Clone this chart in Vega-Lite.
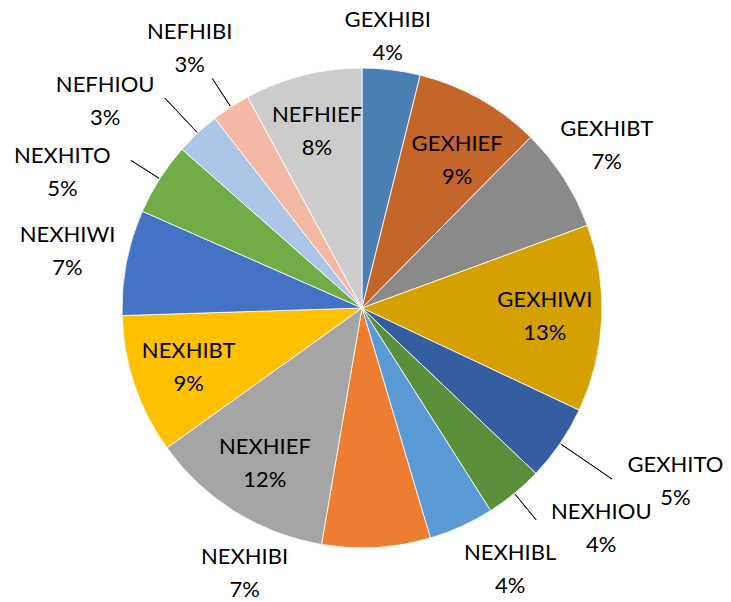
{
  "$schema": "https://vega.github.io/schema/vega-lite/v6.json",
  "width": 724,
  "height": 588,
  "autosize": "none",
  "padding": {"left": 0, "top": 14, "right": 7, "bottom": 0},
  "background": "white",
  "config": {"view": {"stroke": null}, "text": {"font": "Lato", "fontSize": 22, "color": "#000000"}},
  "data": {"values": [
    {"idx": 1, "name": "GEXHIBI", "value": 0.039},
    {"idx": 2, "name": "GEXHIEF", "value": 0.085},
    {"idx": 3, "name": "GEXHIBT", "value": 0.070},
    {"idx": 4, "name": "GEXHIWI", "value": 0.126},
    {"idx": 5, "name": "GEXHITO", "value": 0.051},
    {"idx": 6, "name": "NEXHIOU", "value": 0.039},
    {"idx": 7, "name": "NEXHIBL", "value": 0.044},
    {"idx": 8, "name": "NEXHIBI", "value": 0.073},
    {"idx": 9, "name": "NEXHIEF", "value": 0.124},
    {"idx": 10, "name": "NEXHIBT", "value": 0.094},
    {"idx": 11, "name": "NEXHIWI", "value": 0.071},
    {"idx": 12, "name": "NEXHITO", "value": 0.049},
    {"idx": 13, "name": "NEFHIOU", "value": 0.030},
    {"idx": 14, "name": "NEFHIBI", "value": 0.026},
    {"idx": 15, "name": "NEFHIEF", "value": 0.079}
  ]},
  "encoding": {
    "theta": {"field": "value", "type": "quantitative", "stack": true},
    "order": {"field": "idx", "type": "quantitative"}
  },
  "layer": [
    {
      "mark": {"type": "arc", "outerRadius": 240, "stroke": "#ffffff", "strokeWidth": 0.8},
      "encoding": {
        "color": {
          "field": "name", "type": "nominal", "legend": null,
          "scale": {
            "domain": ["GEXHIBI","GEXHIEF","GEXHIBT","GEXHIWI","GEXHITO","NEXHIOU","NEXHIBL","NEXHIBI","NEXHIEF","NEXHIBT","NEXHIWI","NEXHITO","NEFHIOU","NEFHIBI","NEFHIEF"],
            "range": ["#4a7fb4","#c4662a","#8a8a8a","#d5a100","#355ea0","#5a8f3c","#5b9bd5","#ed7d31","#a5a5a5","#ffc000","#4472c4","#70ad47","#adc5e7","#f4b9a4","#cccccc"]
          }
        }
      }
    },
    {
      "mark": {"type": "arc", "innerRadius": 241, "padAngle": 1.5,
        "outerRadius": {"expr": "datum.name == 'GEXHITO' ? 303 : datum.name == 'NEFHIOU' ? 288 : 274"},
        "fillOpacity": 0, "stroke": "#1a1a1a", "strokeWidth": 1},
      "encoding": {
        "strokeOpacity": {"condition": {"test": "indexof(['GEXHITO','NEXHIOU','NEXHITO','NEFHIOU','NEFHIBI'], datum.name) >= 0", "value": 1}, "value": 0}
      }
    },
    {
      "mark": {"type": "text", "dy": -16,
        "radius": {"expr": "datum.name == 'GEXHIEF' ? 176 : 183"},
        "thetaOffset": {"expr": "(datum.name == 'GEXHIEF' ? 3.4 : 0) * PI / 180"}},
      "encoding": {"text": {"condition": {"test": "datum.value >= 0.075", "field": "name"}, "value": ""}}
    },
    {
      "mark": {"type": "text", "dy": 17,
        "radius": {"expr": "datum.name == 'GEXHIEF' ? 176 : 183"},
        "thetaOffset": {"expr": "(datum.name == 'GEXHIEF' ? 3.4 : 0) * PI / 180"}},
      "encoding": {"text": {"condition": {"test": "datum.value >= 0.075", "field": "value", "type": "quantitative", "format": ".0%"}, "value": ""}}
    },
    {
      "mark": {"type": "text", "dy": -16,
        "radius": {"expr": "datum.name == 'GEXHIBI' ? 273 : datum.name == 'GEXHIBT' ? 294 : datum.name == 'GEXHITO' ? 358 : datum.name == 'NEXHIOU' ? 325 : datum.name == 'NEXHIBI' ? 290 : datum.name == 'NEXHITO' ? 329 : datum.name == 'NEFHIOU' ? 330 : datum.name == 'NEFHIBI' ? 312 : 300"},
        "thetaOffset": {"expr": "(datum.name == 'GEXHIBI' ? -1.6 : datum.name == 'GEXHIBT' ? -0.9 : datum.name == 'GEXHITO' ? -5.5 : datum.name == 'NEXHIOU' ? -8 : datum.name == 'NEXHIBL' ? -5.1 : datum.name == 'NEXHIBI' ? 27.3 : datum.name == 'NEXHITO' ? -8.2 : datum.name == 'NEFHIOU' ? -7.9 : datum.name == 'NEFHIBI' ? -0.4 : 0) * PI / 180"}},
      "encoding": {"text": {"condition": {"test": "datum.value < 0.075", "field": "name"}, "value": ""}}
    },
    {
      "mark": {"type": "text", "dy": 17,
        "radius": {"expr": "datum.name == 'GEXHIBI' ? 273 : datum.name == 'GEXHIBT' ? 294 : datum.name == 'GEXHITO' ? 358 : datum.name == 'NEXHIOU' ? 325 : datum.name == 'NEXHIBI' ? 290 : datum.name == 'NEXHITO' ? 329 : datum.name == 'NEFHIOU' ? 330 : datum.name == 'NEFHIBI' ? 312 : 300"},
        "thetaOffset": {"expr": "(datum.name == 'GEXHIBI' ? -1.6 : datum.name == 'GEXHIBT' ? -0.9 : datum.name == 'GEXHITO' ? -5.5 : datum.name == 'NEXHIOU' ? -8 : datum.name == 'NEXHIBL' ? -5.1 : datum.name == 'NEXHIBI' ? 27.3 : datum.name == 'NEXHITO' ? -8.2 : datum.name == 'NEFHIOU' ? -7.9 : datum.name == 'NEFHIBI' ? -0.4 : 0) * PI / 180"}},
      "encoding": {"text": {"condition": {"test": "datum.value < 0.075", "field": "value", "type": "quantitative", "format": ".0%"}, "value": ""}}
    }
  ]
}
